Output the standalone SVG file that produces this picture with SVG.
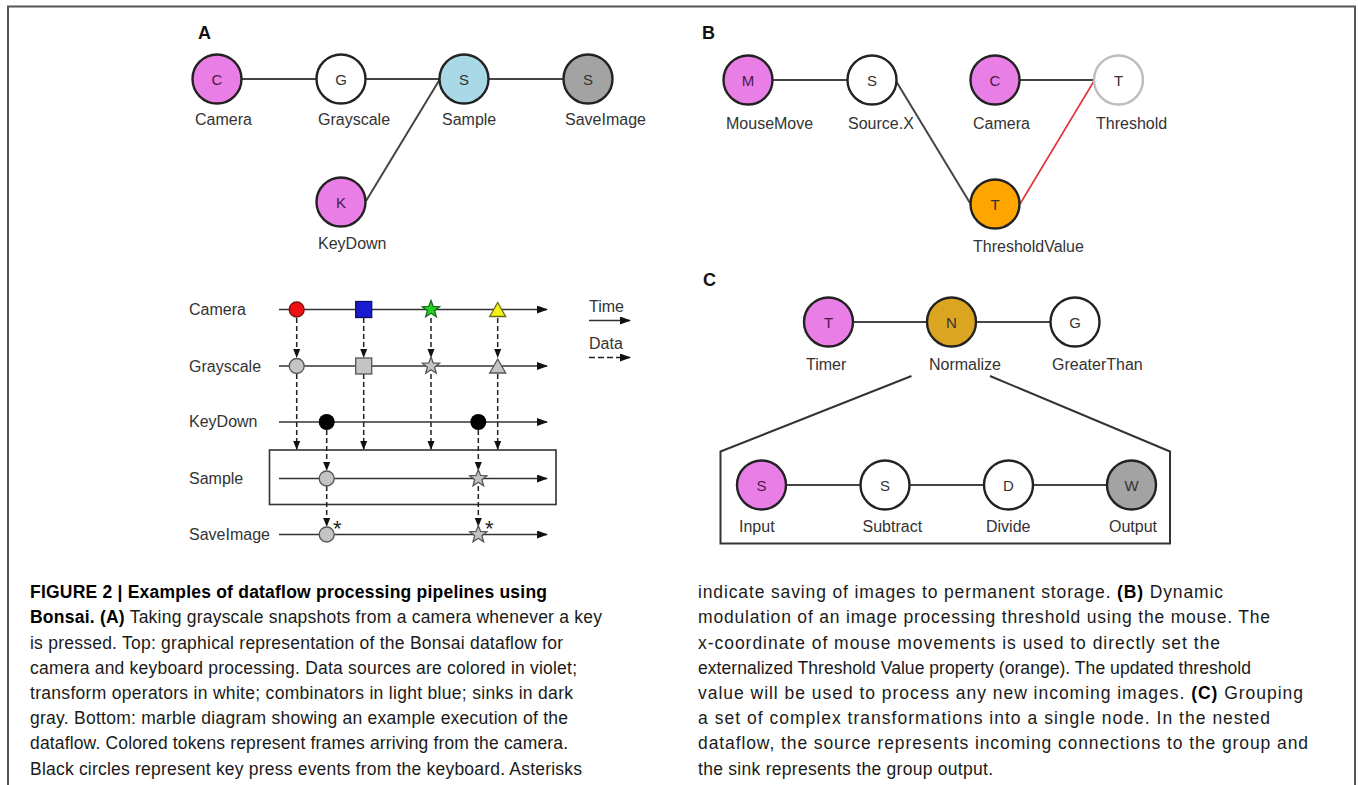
<svg xmlns="http://www.w3.org/2000/svg" width="1358" height="785" viewBox="0 0 1358 785">
<style>
text{font-family:"Liberation Sans",Arial,sans-serif;}
.lbl{font-size:16px;fill:#333;}
.ltr{font-size:15px;fill:#333;text-anchor:middle;}
.ltrv{font-size:15px;fill:#4a1848;text-anchor:middle;}
.pl{font-size:18px;font-weight:bold;fill:#111;}
.node{stroke:#222;stroke-width:2.4;}
.edge{stroke:#444;stroke-width:2;fill:none;}
.tl{stroke:#333;stroke-width:1.6;fill:none;}
.da{stroke:#222;stroke-width:1.5;stroke-dasharray:5 3;fill:none;}
.tok{stroke:#555;stroke-width:1.3;}
.cap{font-size:17.5px;fill:#1a1a1a;}
.b{font-weight:bold;fill:#000;}
.ast{font-size:22px;fill:#222;}
</style>
<defs>
<marker id="ah" markerUnits="userSpaceOnUse" markerWidth="11" markerHeight="8" refX="10" refY="4" orient="auto"><path d="M0,0 L11,4 L0,8 z" fill="#111"/></marker>
<marker id="ahs" markerUnits="userSpaceOnUse" markerWidth="9" markerHeight="8" refX="8" refY="4" orient="auto"><path d="M0,0.5 L9,4 L0,7.5 z" fill="#111"/></marker>
<path id="star" d="M0,-9 L2.23,-3.07 L8.56,-2.78 L3.61,1.17 L5.29,7.28 L0,3.8 L-5.29,7.28 L-3.61,1.17 L-8.56,-2.78 L-2.23,-3.07 Z"/>
</defs>
<rect width="1358" height="785" fill="#fff"/>
<path d="M8,785 L8,6.5 L1355,6.5 L1355,785" fill="none" stroke="#555" stroke-width="2"/>

<!-- Panel A -->
<text class="pl" x="198" y="38.5">A</text>
<g id="connectorsA">
<line class="edge" x1="241" y1="79" x2="316" y2="79"/>
<line class="edge" x1="365" y1="79" x2="440" y2="79"/>
<line class="edge" x1="488" y1="79" x2="564" y2="79"/>
<line class="edge" x1="366" y1="201" x2="440" y2="79"/>
</g>
<g id="a_camera"><circle class="node" cx="217" cy="79" r="24.5" fill="#e97ee6"/><text class="ltrv" x="217" y="84.5">C</text><text class="lbl" x="195" y="125">Camera</text></g>
<g id="a_grayscale"><circle class="node" cx="341" cy="79" r="24.5" fill="#fff"/><text class="ltr" x="341" y="84.5">G</text><text class="lbl" x="318" y="125">Grayscale</text></g>
<g id="a_sample"><circle class="node" cx="464" cy="79" r="24.5" fill="#a9d8e6"/><text class="ltr" x="464" y="84.5">S</text><text class="lbl" x="442" y="125">Sample</text></g>
<g id="a_saveimage"><circle class="node" cx="588" cy="79" r="24.5" fill="#a3a3a3"/><text class="ltr" x="588" y="84.5">S</text><text class="lbl" x="565" y="125">SaveImage</text></g>
<g id="a_keydown"><circle class="node" cx="341" cy="202" r="24.5" fill="#e97ee6"/><text class="ltrv" x="341" y="207.5">K</text><text class="lbl" x="318" y="248.5">KeyDown</text></g>

<!-- Panel B -->
<text class="pl" x="702" y="38.5">B</text>
<g id="connectorsB">
<line class="edge" x1="773" y1="80" x2="847" y2="80"/>
<line class="edge" x1="1020" y1="80" x2="1094" y2="80"/>
<line class="edge" x1="896" y1="81" x2="970" y2="203"/>
<line x1="1020" y1="204" x2="1094" y2="81" stroke="#e0303a" stroke-width="1.6"/>
</g>
<g id="b_mousemove"><circle class="node" cx="748" cy="80" r="24.5" fill="#e97ee6"/><text class="ltrv" x="748" y="85.5">M</text><text class="lbl" x="726" y="128.5">MouseMove</text></g>
<g id="b_sourcex"><circle class="node" cx="872" cy="80" r="24.5" fill="#fff"/><text class="ltr" x="872" y="85.5">S</text><text class="lbl" x="848" y="128.5">Source.X</text></g>
<g id="b_camera"><circle class="node" cx="995" cy="80" r="24.5" fill="#e97ee6"/><text class="ltrv" x="995" y="85.5">C</text><text class="lbl" x="973" y="128.5">Camera</text></g>
<g id="b_threshold"><circle cx="1118.5" cy="80" r="24.5" fill="#fff" stroke="#bdbdbd" stroke-width="2.4"/><text class="ltr" x="1118.5" y="85.5">T</text><text class="lbl" x="1096" y="128.5">Threshold</text></g>
<g id="b_thresholdvalue"><circle class="node" cx="995" cy="204" r="24.5" fill="#ffa500"/><text class="ltr" x="995" y="209.5">T</text><text class="lbl" x="973" y="251.5">ThresholdValue</text></g>

<!-- Panel C -->
<text class="pl" x="703" y="285.5">C</text>
<g id="connectorsC">
<line class="edge" x1="853" y1="322" x2="927" y2="322"/>
<line class="edge" x1="976" y1="322" x2="1050" y2="322"/>
<polyline points="911.5,376 720.5,451.5 720.5,543.5 1170,543.5 1170,451.5 990,376" fill="none" stroke="#333" stroke-width="2"/>
<line class="edge" x1="786" y1="485" x2="860" y2="485"/>
<line class="edge" x1="910" y1="485" x2="984" y2="485"/>
<line class="edge" x1="1033" y1="485" x2="1107" y2="485"/>
</g>
<g id="c_timer"><circle class="node" cx="828.5" cy="322" r="24.5" fill="#e97ee6"/><text class="ltrv" x="828.5" y="327.5">T</text><text class="lbl" x="806" y="369.5">Timer</text></g>
<g id="c_normalize"><circle class="node" cx="951.5" cy="322" r="24.5" fill="#daa520"/><text class="ltr" x="951.5" y="327.5">N</text><text class="lbl" x="929" y="369.5">Normalize</text></g>
<g id="c_greaterthan"><circle class="node" cx="1075" cy="322" r="24.5" fill="#fff"/><text class="ltr" x="1075" y="327.5">G</text><text class="lbl" x="1052" y="369.5">GreaterThan</text></g>
<g id="c_input"><circle class="node" cx="761.5" cy="485" r="24.5" fill="#e97ee6"/><text class="ltrv" x="761.5" y="490.5">S</text><text class="lbl" x="739" y="532">Input</text></g>
<g id="c_subtract"><circle class="node" cx="885" cy="485" r="24.5" fill="#fff"/><text class="ltr" x="885" y="490.5">S</text><text class="lbl" x="862.5" y="532">Subtract</text></g>
<g id="c_divide"><circle class="node" cx="1008.5" cy="485" r="24.5" fill="#fff"/><text class="ltr" x="1008.5" y="490.5">D</text><text class="lbl" x="986" y="532">Divide</text></g>
<g id="c_output"><circle class="node" cx="1131.5" cy="485" r="24.5" fill="#a3a3a3"/><text class="ltr" x="1131.5" y="490.5">W</text><text class="lbl" x="1109" y="532">Output</text></g>

<!-- Marble diagram -->
<g id="marble">
<text class="lbl" x="189" y="315">Camera</text>
<text class="lbl" x="189" y="371.5">Grayscale</text>
<text class="lbl" x="189" y="427">KeyDown</text>
<text class="lbl" x="189" y="484">Sample</text>
<text class="lbl" x="189" y="539.5">SaveImage</text>
<rect x="269.5" y="450" width="286.5" height="54.5" fill="none" stroke="#333" stroke-width="1.6"/>
<line class="tl" x1="279" y1="309.5" x2="547" y2="309.5" marker-end="url(#ah)"/>
<line class="tl" x1="279" y1="366" x2="547" y2="366" marker-end="url(#ah)"/>
<line class="tl" x1="279" y1="422" x2="547" y2="422" marker-end="url(#ah)"/>
<line class="tl" x1="279" y1="478.5" x2="547" y2="478.5" marker-end="url(#ah)"/>
<line class="tl" x1="279" y1="534.5" x2="547" y2="534.5" marker-end="url(#ah)"/>
<line class="da" x1="296.7" y1="318" x2="296.7" y2="357" marker-end="url(#ahs)"/>
<line class="da" x1="363.7" y1="318" x2="363.7" y2="357" marker-end="url(#ahs)"/>
<line class="da" x1="431" y1="318" x2="431" y2="357" marker-end="url(#ahs)"/>
<line class="da" x1="497.7" y1="318" x2="497.7" y2="357" marker-end="url(#ahs)"/>
<line class="da" x1="296.7" y1="374" x2="296.7" y2="449" marker-end="url(#ahs)"/>
<line class="da" x1="363.7" y1="374" x2="363.7" y2="449" marker-end="url(#ahs)"/>
<line class="da" x1="431" y1="374" x2="431" y2="449" marker-end="url(#ahs)"/>
<line class="da" x1="497.7" y1="374" x2="497.7" y2="449" marker-end="url(#ahs)"/>
<line class="da" x1="326.7" y1="430" x2="326.7" y2="470" marker-end="url(#ahs)"/>
<line class="da" x1="478.3" y1="430" x2="478.3" y2="470" marker-end="url(#ahs)"/>
<line class="da" x1="326.7" y1="486" x2="326.7" y2="526" marker-end="url(#ahs)"/>
<line class="da" x1="478.3" y1="486" x2="478.3" y2="526" marker-end="url(#ahs)"/>
<circle cx="296.7" cy="309.5" r="7.5" fill="#ee1111" stroke="#7a1010" stroke-width="1.3"/>
<rect x="355.7" y="301.5" width="16" height="16" fill="#1a1ad0" stroke="#10105a" stroke-width="1.3"/>
<use href="#star" x="431" y="309.5" fill="#22d022" stroke="#1a6a1a" stroke-width="1.3"/>
<path d="M497.7,302.5 L505.7,316.5 L489.7,316.5 Z" fill="#f2f21a" stroke="#6a6a10" stroke-width="1.3"/>
<circle class="tok" cx="296.7" cy="366" r="7.5" fill="#c4c4c4"/>
<rect class="tok" x="355.7" y="358" width="16" height="16" fill="#c4c4c4"/>
<use class="tok" href="#star" x="431" y="366" fill="#c4c4c4"/>
<path class="tok" d="M497.7,359 L505.7,373 L489.7,373 Z" fill="#c4c4c4"/>
<circle cx="326.7" cy="422" r="8" fill="#000"/>
<circle cx="478.3" cy="422" r="8" fill="#000"/>
<circle class="tok" cx="326.7" cy="478.5" r="7.5" fill="#c4c4c4"/>
<use class="tok" href="#star" x="478.3" y="478.5" fill="#c4c4c4"/>
<circle class="tok" cx="326.7" cy="534.5" r="7.5" fill="#c4c4c4"/>
<use class="tok" href="#star" x="478.3" y="534.5" fill="#c4c4c4"/>
<text class="ast" x="333" y="536">*</text>
<text class="ast" x="485" y="536">*</text>
<text class="lbl" x="589" y="312">Time</text>
<line class="tl" x1="589" y1="320.5" x2="630" y2="320.5" marker-end="url(#ah)"/>
<text class="lbl" x="589" y="349">Data</text>
<line x1="589" y1="357.5" x2="630" y2="357.5" stroke="#222" stroke-width="1.5" stroke-dasharray="6 3" marker-end="url(#ah)"/>
</g>

<!-- Caption -->
<g id="caption">
<text class="cap" x="30" y="598" textLength="517" lengthAdjust="spacing"><tspan class="b">FIGURE 2 | Examples of dataflow processing pipelines using</tspan></text>
<text class="cap" x="30" y="623" textLength="572" lengthAdjust="spacing"><tspan class="b">Bonsai. (A)</tspan> Taking grayscale snapshots from a camera whenever a key</text>
<text class="cap" x="30" y="649" textLength="533" lengthAdjust="spacing">is pressed. Top: graphical representation of the Bonsai dataflow for</text>
<text class="cap" x="30" y="674" textLength="547" lengthAdjust="spacing">camera and keyboard processing. Data sources are colored in violet;</text>
<text class="cap" x="30" y="699" textLength="543" lengthAdjust="spacing">transform operators in white; combinators in light blue; sinks in dark</text>
<text class="cap" x="30" y="724" textLength="538" lengthAdjust="spacing">gray. Bottom: marble diagram showing an example execution of the</text>
<text class="cap" x="30" y="749" textLength="538" lengthAdjust="spacing">dataflow. Colored tokens represent frames arriving from the camera.</text>
<text class="cap" x="30" y="775" textLength="552" lengthAdjust="spacing">Black circles represent key press events from the keyboard. Asterisks</text>
<text class="cap" x="698" y="598" textLength="525" lengthAdjust="spacing">indicate saving of images to permanent storage. <tspan class="b">(B)</tspan> Dynamic</text>
<text class="cap" x="698" y="623" textLength="572" lengthAdjust="spacing">modulation of an image processing threshold using the mouse. The</text>
<text class="cap" x="698" y="649" textLength="522" lengthAdjust="spacing">x-coordinate of mouse movements is used to directly set the</text>
<text class="cap" x="698" y="674" textLength="553" lengthAdjust="spacing">externalized Threshold Value property (orange). The updated threshold</text>
<text class="cap" x="698" y="699" textLength="605" lengthAdjust="spacing">value will be used to process any new incoming images. <tspan class="b">(C)</tspan> Grouping</text>
<text class="cap" x="698" y="724" textLength="572" lengthAdjust="spacing">a set of complex transformations into a single node. In the nested</text>
<text class="cap" x="698" y="749" textLength="610" lengthAdjust="spacing">dataflow, the source represents incoming connections to the group and</text>
<text class="cap" x="698" y="775" textLength="295" lengthAdjust="spacing">the sink represents the group output.</text>
</g>
</svg>
